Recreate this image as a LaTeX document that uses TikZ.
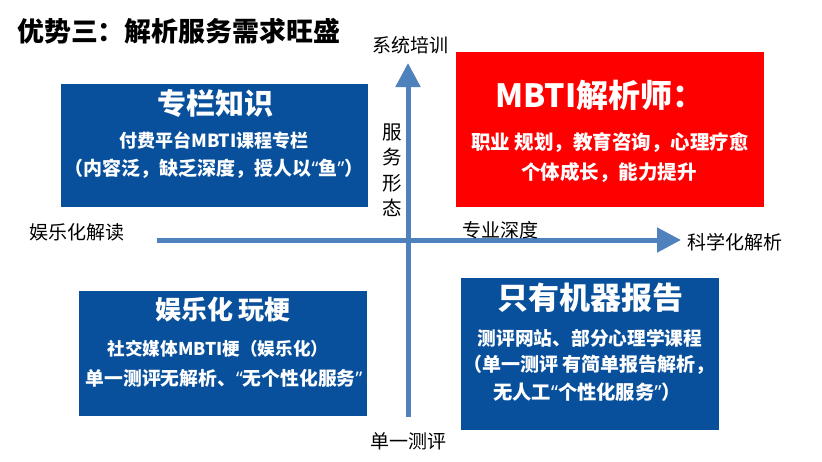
\documentclass[tikz,border=0pt]{standalone}
\usepackage{fontspec}
\setmainfont{Noto Sans CJK SC}
\newfontfamily\qfont{Noto Sans}
\newcommand{\myLQ}{{\qfont\bfseries “}}
\newcommand{\myRQ}{{\qfont\bfseries ”}}
\usetikzlibrary{arrows.meta}
\definecolor{boxblue}{RGB}{8,80,155}
\definecolor{boxred}{RGB}{255,0,0}
\definecolor{axisblue}{RGB}{79,129,189}
\tikzset{
  quad/.style={draw=none,inner sep=0pt,anchor=north west},
  wt/.style={text=white,font=\bfseries\fontsize{#1}{#1}\selectfont,inner sep=0pt,anchor=center},
  lab/.style={text=black,font=\fontsize{19}{19}\selectfont,inner sep=0pt,anchor=center},
  axis/.style={draw=axisblue,line width=5pt,-{Triangle[width=24pt,length=24pt]},color=axisblue}
}
\begin{document}
\begin{tikzpicture}[x=1pt,y=-1pt]
\useasboundingbox[fill=white] (0,0) rectangle (822,461);
% title
\node[inner sep=0pt,anchor=west,font=\bfseries\fontsize{26.9}{26.9}\selectfont] (title) at (17,31) {优势三：解析服务需求旺盛};
% boxes
\node[quad,fill=boxblue,minimum width=307pt,minimum height=123pt] (tl) at (61,84) {};
\node[quad,fill=boxred,minimum width=308pt,minimum height=155pt] (tr) at (456,52) {};
\node[quad,fill=boxblue,minimum width=288pt,minimum height=125pt] (bl) at (79,291) {};
\node[quad,fill=boxblue,minimum width=258pt,minimum height=152pt] (br) at (461,278) {};
% axes
\coordinate (vb) at (408,417);
\coordinate (vt) at (408,63);
\coordinate (hl) at (157,240);
\coordinate (hr) at (681,240);
\draw[axis] (hl) -- (hr);
\draw[axis] (vb) -- (vt);
% axis labels
\node[lab] (ltop) at (410,45) {系统培训};
\node[lab] (lbot) at (408,441) {单一测评};
\node[lab] (lleft) at (77,232) {娱乐化解读};
\node[lab] (lright) at (735,242) {科学化解析};
\node[lab] (ldepth) at (500,230) {专业深度};
\node[lab,align=center,font=\fontsize{19.5}{25.5}\selectfont] (lform) at (392,170) {服\\务\\形\\态};
% top-left text
\node[wt=29] (tl1) at (215,103) {专栏知识};
\node[wt=18] (tl2) at (214,141) {付费平台MBTI课程专栏};
\node[wt=19] (tl3) at (214,169) {（内容泛，缺乏深度，授人以\myLQ 鱼\myRQ ）};
% top-right text
\node[wt=32] (tr1) at (600,95) {MBTI解析师：};
\node[wt=19.5] (tr2) at (610,143) {职业 规划，教育咨询，心理疗愈};
\node[wt=19.5] (tr3) at (609,173) {个体成长，能力提升};
% bottom-left text
\node[wt=26] (bl1) at (223,310) {娱乐化 玩梗};
\node[wt=17.6] (bl2) at (218,349) {社交媒体MBTI梗（娱乐化）};
\node[wt=18.8] (bl3) at (224,378) {单一测评无解析、\myLQ 无个性化服务\myRQ};
% bottom-right text
\node[wt=31] (br1) at (590,298) {只有机器报告};
\node[wt=18.7] (br2) at (590,338) {测评网站、部分心理学课程};
\node[wt=19] (br3) at (589,365) {（单一测评 有简单报告解析，};
\node[wt=19.3] (br4) at (587,392) {无人工\myLQ 个性化服务\myRQ ）};
\end{tikzpicture}
\end{document}
